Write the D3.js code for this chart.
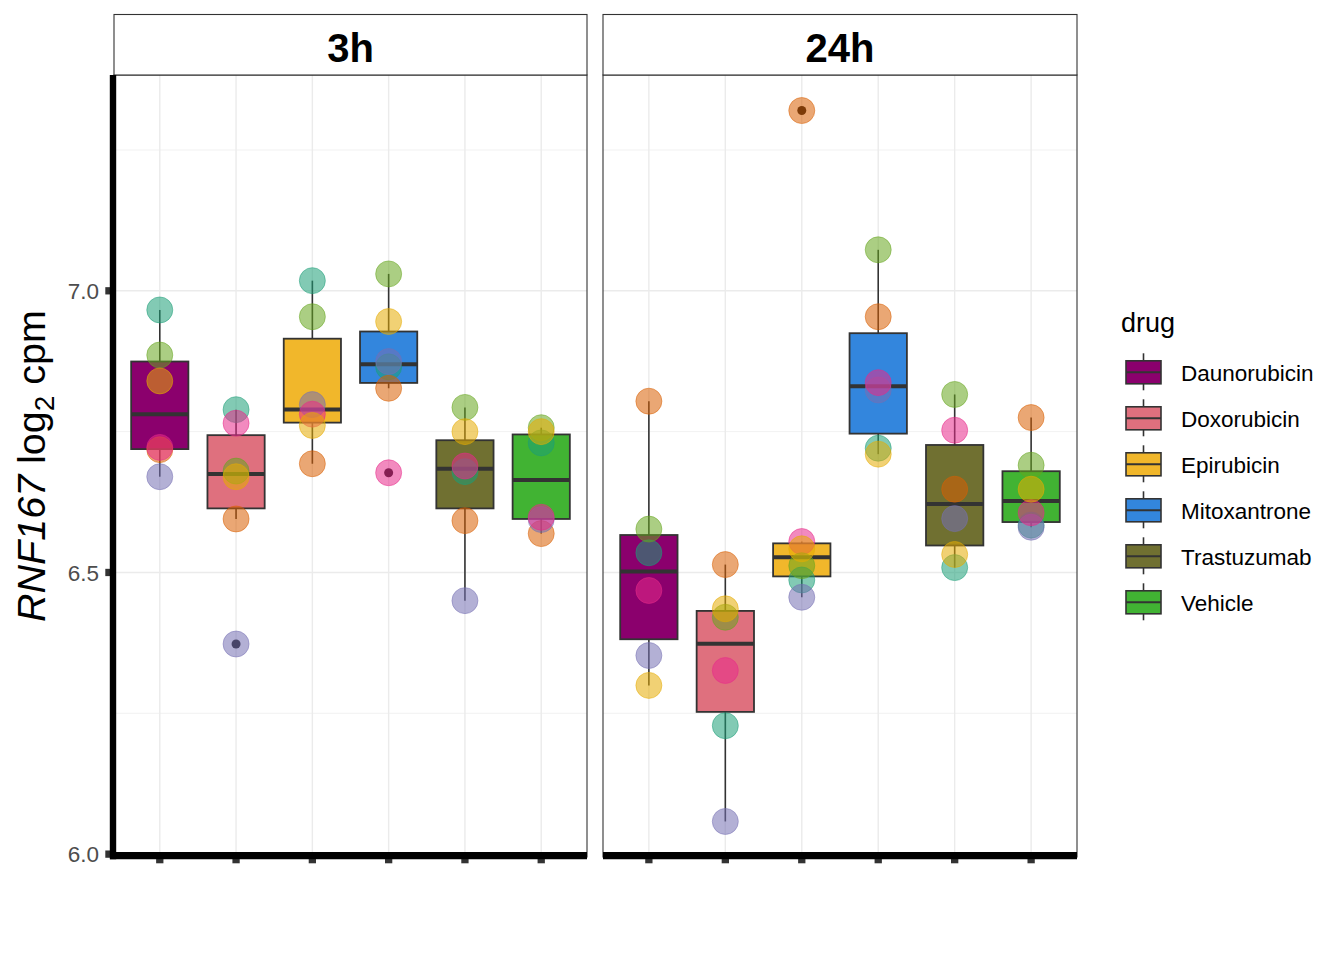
<!DOCTYPE html>
<html>
<head>
<meta charset="utf-8">
<script src="https://cdn.jsdelivr.net/npm/d3@7"></script>
<style>
html,body{margin:0;padding:0;background:#fff;}
svg{display:block;font-family:"Liberation Sans",Arial,sans-serif;}
</style>
</head>
<body>
<svg id="chart" width="1344" height="960"></svg>
<script>
// ---------- data ----------
const drugs = ["Daunorubicin","Doxorubicin","Epirubicin","Mitoxantrone","Trastuzumab","Vehicle"];
const drugColors = ["#8B006D","#DF707E","#F1B72B","#3386DD","#707031","#41B333"];
const times = ["3h","24h"];
const individuals = ["1","2","3","4","5","6"];
const indColors = ["#1B9E77","#D95F02","#7570B3","#E7298A","#66A61E","#E6AB02"];
const yTicks = [6.0, 6.5, 7.0];
const yMinor = [6.25, 6.75, 7.25];

// values per drug, ordered by individual 1..6
const values3h = {
  Daunorubicin: [6.966, 6.718, 6.670, 6.722, 6.886, 6.840],
  Doxorubicin:  [6.789, 6.595, 6.373, 6.765, 6.680, 6.670],
  Epirubicin:   [7.018, 6.693, 6.798, 6.781, 6.954, 6.761],
  Mitoxantrone: [6.865, 6.827, 6.8745, 6.677, 7.030, 6.9455],
  Trastuzumab:  [6.679, 6.592, 6.450, 6.689, 6.793, 6.750],
  Vehicle:      [6.730, 6.569, 6.594, 6.598, 6.757, 6.750]
};
const values24h = {
  Daunorubicin: [6.535, 6.804, 6.3526, 6.468, 6.577, 6.2995],
  Doxorubicin:  [6.228, 6.514, 6.058, 6.326, 6.4205, 6.4355],
  Epirubicin:   [6.4867, 7.320, 6.456, 6.5549, 6.512, 6.542],
  Mitoxantrone: [6.7206, 6.954, 6.824, 6.837, 7.0728, 6.710],
  Trastuzumab:  [6.5086, 6.6478, 6.5956, 6.7525, 6.816, 6.532],
  Vehicle:      [6.584, 6.775, 6.5803, 6.606, 6.6904, 6.6478]
};
const valuesByTime = {"3h": values3h, "24h": values24h};

// ---------- layout ----------
const svg = d3.select("#chart");
const panels = [{t:"3h", x0:114, x1:587}, {t:"24h", x0:603, x1:1077}];
const plotTop = 75, plotBottom = 857, stripTop = 14.5;

const allVals = [];
times.forEach(t => drugs.forEach(d => valuesByTime[t][d].forEach(v => allVals.push(v))));
const ext = d3.extent(allVals), rng = ext[1]-ext[0];
const y = d3.scaleLinear().domain([ext[0]-0.05*rng, ext[1]+0.05*rng]).range([plotBottom, plotTop]);
const colorDrug = d3.scaleOrdinal().domain(drugs).range(drugColors);
const colorInd = d3.scaleOrdinal().domain(individuals).range(indColors);

panels.forEach((p, pi) => {
  const x = d3.scalePoint().domain(drugs).range([p.x0, p.x1]).padding(0.6);
  const bw = x.step()*0.75;
  const g = svg.append("g");

  // gridlines
  g.selectAll(".minor").data(yMinor).join("line")
    .attr("x1", p.x0).attr("x2", p.x1).attr("y1", d=>y(d)).attr("y2", d=>y(d))
    .attr("stroke", "#EBEBEB").attr("stroke-width", 0.7);
  g.selectAll(".major").data(yTicks).join("line")
    .attr("x1", p.x0).attr("x2", p.x1).attr("y1", d=>y(d)).attr("y2", d=>y(d))
    .attr("stroke", "#EBEBEB").attr("stroke-width", 1.4);
  g.selectAll(".vgrid").data(drugs).join("line")
    .attr("x1", d=>x(d)).attr("x2", d=>x(d)).attr("y1", plotTop).attr("y2", plotBottom)
    .attr("stroke", "#EBEBEB").attr("stroke-width", 1.4);

  // boxplots
  drugs.forEach(d => {
    const vals = valuesByTime[p.t][d].slice().sort(d3.ascending);
    const q1 = d3.quantile(vals, 0.25), med = d3.quantile(vals, 0.5), q3 = d3.quantile(vals, 0.75);
    const iqr = q3-q1, lo = q1-1.5*iqr, hi = q3+1.5*iqr;
    const inside = vals.filter(v => v>=lo && v<=hi);
    const wLo = d3.min(inside), wHi = d3.max(inside);
    const outl = vals.filter(v => v<lo || v>hi);
    const cx = x(d);
    g.append("line").attr("x1",cx).attr("x2",cx).attr("y1",y(q3)).attr("y2",y(wHi))
      .attr("stroke","#333").attr("stroke-width",1.6);
    g.append("line").attr("x1",cx).attr("x2",cx).attr("y1",y(q1)).attr("y2",y(wLo))
      .attr("stroke","#333").attr("stroke-width",1.6);
    g.append("rect").attr("x",cx-bw/2).attr("width",bw).attr("y",y(q3)).attr("height",y(q1)-y(q3))
      .attr("fill",colorDrug(d)).attr("stroke","#333").attr("stroke-width",1.8);
    g.append("line").attr("x1",cx-bw/2).attr("x2",cx+bw/2).attr("y1",y(med)).attr("y2",y(med))
      .attr("stroke","#333").attr("stroke-width",4);
    g.selectAll(null).data(outl).join("circle")
      .attr("cx",cx).attr("cy",v=>y(v)).attr("r",4.5).attr("fill","#111");
  });

  // points
  drugs.forEach(d => {
    const vals = valuesByTime[p.t][d];
    g.selectAll(null).data(vals.map((v,i)=>({v, ind: individuals[i]}))).join("circle")
      .attr("cx", x(d)).attr("cy", e=>y(e.v)).attr("r", 13)
      .attr("fill", e=>colorInd(e.ind)).attr("fill-opacity", 0.55)
      .attr("stroke", e=>colorInd(e.ind)).attr("stroke-opacity", 0.5).attr("stroke-width", 1);
  });

  // panel border
  g.append("rect").attr("x",p.x0).attr("y",plotTop).attr("width",p.x1-p.x0).attr("height",plotBottom-plotTop)
    .attr("fill","none").attr("stroke","#333").attr("stroke-width",1.1);

  // strip
  g.append("rect").attr("x",p.x0).attr("y",stripTop).attr("width",p.x1-p.x0).attr("height",plotTop-stripTop)
    .attr("fill","#fff").attr("stroke","#333").attr("stroke-width",1.1);
  g.append("text").attr("x",(p.x0+p.x1)/2).attr("y",61.5).attr("text-anchor","middle")
    .attr("font-size",40).attr("font-weight","bold").attr("fill","#000").text(p.t);

  // bottom axis: ticks and thick line
  g.selectAll(".xt").data(drugs).join("line")
    .attr("x1", d=>x(d)).attr("x2", d=>x(d)).attr("y1", 855).attr("y2", 863.3)
    .attr("stroke","#333").attr("stroke-width",7.3);
  g.append("line").attr("x1", pi===0 ? 110 : p.x0).attr("x2", p.x1).attr("y1", 855.7).attr("y2", 855.7)
    .attr("stroke","#000").attr("stroke-width",7.2);

  if (pi === 0) {
    g.selectAll(".yt").data(yTicks).join("line")
      .attr("x1", 105.3).attr("x2", 113).attr("y1", d=>y(d)).attr("y2", d=>y(d))
      .attr("stroke","#333").attr("stroke-width",7.3);
    g.append("line").attr("x1",113).attr("x2",113).attr("y1",plotTop).attr("y2",859.3)
      .attr("stroke","#000").attr("stroke-width",6.4);
    g.selectAll(".ytl").data(yTicks).join("text")
      .attr("x", 99).attr("y", d=>y(d)).attr("dy","0.36em").attr("text-anchor","end")
      .attr("font-size",22.5).attr("fill","#4D4D4D").text(d=>d3.format(".1f")(d));
  }
});

// y-axis title
const yt = svg.append("text").attr("transform",`translate(45,${(plotTop+plotBottom)/2}) rotate(-90)`)
  .attr("text-anchor","middle").attr("font-size",39.5).attr("fill","#000");
yt.append("tspan").attr("font-style","italic").text("RNF167");
yt.append("tspan").text(" log");
yt.append("tspan").attr("font-size",28).attr("dy",8.5).text("2");
yt.append("tspan").attr("dy",-8.5).text(" cpm");

// legend
const lg = svg.append("g");
lg.append("text").attr("x",1121).attr("y",332).attr("font-size",27).attr("fill","#000").text("drug");
drugs.forEach((d,i) => {
  const cy = 372.3 + i*46;
  lg.append("line").attr("x1",1143.5).attr("x2",1143.5).attr("y1",cy-19).attr("y2",cy+18)
    .attr("stroke","#333").attr("stroke-width",1.6);
  lg.append("rect").attr("x",1126).attr("y",cy-11.5).attr("width",35).attr("height",23)
    .attr("fill",colorDrug(d)).attr("stroke","#333").attr("stroke-width",1.6);
  lg.append("line").attr("x1",1126).attr("x2",1161).attr("y1",cy).attr("y2",cy)
    .attr("stroke","#333").attr("stroke-width",2);
  lg.append("text").attr("x",1181).attr("y",cy+1).attr("dy","0.36em").attr("font-size",22.5)
    .attr("fill","#000").text(d);
});
</script>
</body>
</html>
